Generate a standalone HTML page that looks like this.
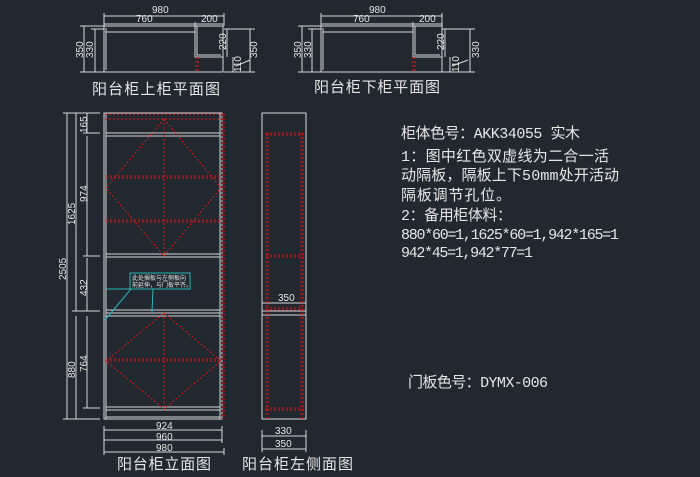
<!DOCTYPE html>
<html><head><meta charset="utf-8"><style>
html,body{margin:0;padding:0;background:#212830;}
svg{display:block}
text{font-family:"Liberation Sans","Noto Sans CJK SC",sans-serif;fill:#e6e6e6}
.m{font-family:"Liberation Mono","Noto Sans CJK SC",monospace}
</style></head><body>
<svg width="700" height="477" viewBox="0 0 700 477" xmlns="http://www.w3.org/2000/svg">
<rect width="700" height="477" fill="#212830"/>
<g stroke="#d8d8d8" stroke-width="1" fill="none">
<!-- Plan 1 -->
<path d="M104 26 H223 V72 H104 Z M106 32 H195 M106 28 V70 M195 26 V57 H223"/>
<path d="M197 26 V55 H221"/>
<path d="M104 16 H224 M104 24 H195 M195 24 H224 M104 13 V26 M224 13 V26 M195 22 V26"/>
<path d="M84 26 V72 M95 29 V72 M80 26 H104 M91 29 H104 M80 72 H104"/>
<path d="M227 29 V57 M233 57 V72 M250 29 V72 M224 29 H255 M224 72 H255 M236 66 L250 60"/>
<!-- Plan 2 -->
<path d="M321 26 H442 V72 H321 Z M323 32 H413 M323 28 V70 M413 26 V57 H442"/>
<path d="M415 26 V55 H440"/>
<path d="M321 16 H442 M321 24 H413 M413 24 H442 M321 13 V26 M442 13 V26 M413 22 V26"/>
<path d="M302 26 V72 M312 29 V72 M298 26 H321 M308 29 H321 M298 72 H321"/>
<path d="M445 29 V57 M450 57 V72 M470 29 V72 M442 29 H475 M442 72 H475 M452 66 L468 60"/>
<!-- Elevation -->
<rect x="104" y="113" width="118" height="306"/>
<path d="M106 113 V419 M220 113 V419"/>
<path d="M106 133 H220 M106 136 H220 M106 254 H220 M106 257 H220 M106 310 H220 M106 313 H220 M106 316 H220 M106 407 H220 M106 410 H220 M106 417 H220"/>
<!-- left dims -->
<path d="M67 113 V419 M76 113 V311 M76 316 V419 M87 113 V133 M87 136 V256 M87 258 V311 M87 316 V408"/>
<path d="M63 113 H100 M72 311 H100 M63 419 H100 M83 133 H100 M83 256 H100 M83 408 H100"/>
<!-- bottom dims -->
<path d="M104 430 H222 M104 440 H222 M104 452 H224 M104 426 V455 M222 426 V443 M224 448 V455"/>
<!-- Side -->
<rect x="262" y="113" width="44" height="306"/>
<path d="M262 303 H306 M262 311 H306 M262 315 H306"/>
<path d="M262 436 H306 M262 449 H306 M262 430 V452 M306 430 V452"/>
</g>
<!-- red dashed -->
<g stroke="#e01818" stroke-width="1" fill="none" stroke-dasharray="2,2">
<path d="M196 57 V72 M198 57 V72 M413 57 V72 M415 57 V72" />
<path d="M105 114 H224 M105 119 H224 M222 114 V419 M224 114 V419"/>
<path d="M106 176 H220 M106 178 H220 M106 220 H220 M106 222 H220 M106 359 H220 M106 361 H220"/>
<path d="M164 119 V256 M164 313 V410"/>
<path d="M164 119 L221 188 L164 256 L106 188 Z"/>
<path d="M164 313 L221 361 L164 409 L106 361 Z"/>
<path d="M266 133 V419 M268 133 V419 M301 133 V419 M303 133 V419 M266 133 H303 M266 135 H303 M266 255 H303 M266 257 H303 M266 308 H303 M266 310 H303 M266 408 H303 M266 410 H303"/>
</g>
<!-- annotation -->
<g stroke="#2bb8b8" fill="none" stroke-width="1">
<rect x="130" y="273" width="60" height="16"/>
<path d="M105 289 H131 L105 320 M153 289 L152 312"/>
</g>
<text x="132" y="280" font-size="6">此处搁板与左侧板向</text>
<text x="132" y="287" font-size="6">前延伸，与门板平齐。</text>
<!-- dim text -->
<g font-size="10">
<text x="152" y="13">980</text>
<text x="136" y="22">760</text>
<text x="201" y="22">200</text>
<text x="369" y="13">980</text>
<text x="353" y="22">760</text>
<text x="419" y="22">200</text>
<text x="278" y="301">350</text>
<text x="156" y="429">924</text>
<text x="156" y="440">960</text>
<text x="156" y="451">980</text>
<text x="275" y="434">330</text>
<text x="275" y="447">350</text>
</g>
<g font-size="10">
<text transform="translate(83,58) rotate(-90)">350</text>
<text transform="translate(93,58) rotate(-90)">330</text>
<text transform="translate(226,50) rotate(-90)">220</text>
<text transform="translate(241,72) rotate(-90)">110</text>
<text transform="translate(257,58) rotate(-90)">350</text>
<text transform="translate(301,58) rotate(-90)">350</text>
<text transform="translate(311,58) rotate(-90)">330</text>
<text transform="translate(444,50) rotate(-90)">220</text>
<text transform="translate(459,72) rotate(-90)">110</text>
<text transform="translate(479,58) rotate(-90)">330</text>
<text transform="translate(66,280) rotate(-90)">2505</text>
<text transform="translate(75,225) rotate(-90)">1625</text>
<text transform="translate(87,133) rotate(-90)">165</text>
<text transform="translate(87,202) rotate(-90)">974</text>
<text transform="translate(87,296) rotate(-90)">432</text>
<text transform="translate(75,378) rotate(-90)">880</text>
<text transform="translate(87,372) rotate(-90)">764</text>
</g>
<!-- titles -->
<text x="92" y="94" font-size="15" textLength="128">阳台柜上柜平面图</text>
<text x="314" y="92" font-size="15" textLength="126">阳台柜下柜平面图</text>
<text x="117" y="469" font-size="15" textLength="94">阳台柜立面图</text>
<text x="242" y="469" font-size="15" textLength="111">阳台柜左侧面图</text>
<!-- notes -->
<g class="m" font-size="15">
<text class="m" x="401" y="138" textLength="179">柜体色号：AKK34055 实木</text>
<text class="m" x="401" y="161" textLength="208">1：图中红色双虚线为二合一活</text>
<text class="m" x="401" y="180" textLength="218">动隔板，隔板上下50mm处开活动</text>
<text class="m" x="401" y="200" textLength="110">隔板调节孔位。</text>
<text class="m" x="401" y="220" textLength="111">2：备用柜体料：</text>
<text class="m" x="401" y="239" textLength="218">880*60=1,1625*60=1,942*165=1</text>
<text class="m" x="401" y="257" textLength="132">942*45=1,942*77=1</text>
<text class="m" x="408" y="387" textLength="140">门板色号：DYMX-006</text>
</g>
</svg>
</body></html>
